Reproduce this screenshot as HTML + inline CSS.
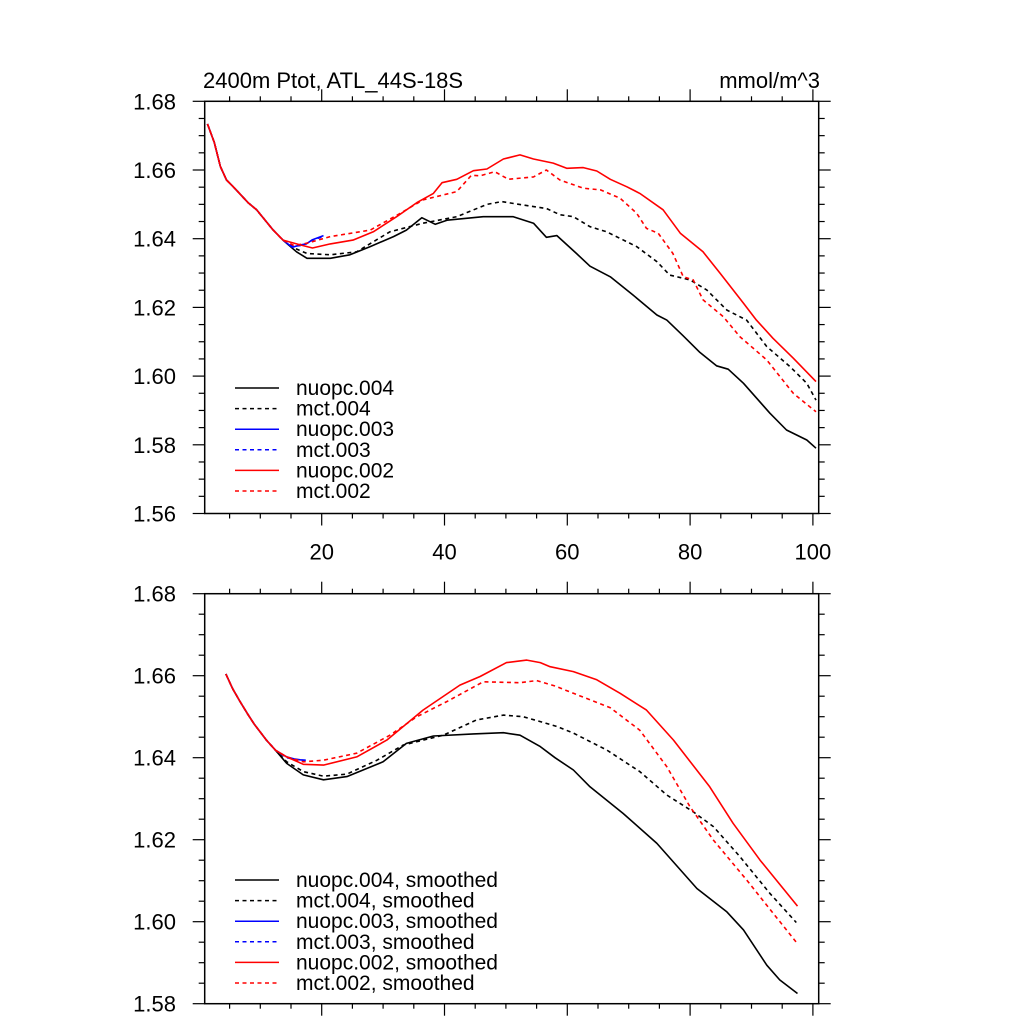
<!DOCTYPE html>
<html><head><meta charset="utf-8"><style>
html,body{margin:0;padding:0;background:#fff;}
svg{display:block;}
text{font-family:"Liberation Sans",sans-serif;fill:#000;}
</style></head><body>
<svg id="chart" width="1024" height="1024" viewBox="0 0 1024 1024"></svg>
<script>
// ---- shared x categories / ticks ----
const xTickLabels = [20, 40, 60, 80, 100];
const topYTicks = [1.56, 1.58, 1.60, 1.62, 1.64, 1.66, 1.68];
const botYTicks = [1.58, 1.60, 1.62, 1.64, 1.66, 1.68];
const early = [[1.4,1.6734],[2.5,1.668],[3.5,1.661],[4.5,1.6571],[5.6,1.6551],[8,1.6505],[9.4,1.6484],[12.1,1.6425],[13.7,1.6396]];
// ---- top panel series ----
const topN004X = [15.9,17.6,21.4,24.6,27.9,31.7,33.8,36.3,38.5,40.4,46.3,51.2,54.5,56.6,58.3,61.5,63.7,67,70.7,74.6,76.2,78.9,81.6,84.3,86.2,88.7,93,95.7,99,100.5];
const topN004Y = [1.6362,1.6343,1.6343,1.6353,1.6377,1.6406,1.6425,1.6461,1.6442,1.6454,1.6464,1.6464,1.6445,1.6404,1.6409,1.6357,1.6320,1.6289,1.6236,1.6178,1.6163,1.6117,1.6069,1.6030,1.6020,1.5979,1.5892,1.5843,1.5814,1.5790];
const topM004X = [15.9,17.6,21.4,25.7,31.1,36.5,42,46.9,49.3,52.8,56.6,58.8,61,63.7,66.4,71.3,74.6,76.7,80,82.7,86,89.2,92.5,96.3,99,100.5];
const topM004Y = [1.6370,1.6357,1.6353,1.6362,1.6420,1.6445,1.6464,1.6500,1.6508,1.6498,1.6488,1.6470,1.6464,1.6435,1.6420,1.6377,1.6333,1.6294,1.6280,1.6251,1.6192,1.6163,1.6086,1.6027,1.5979,1.5930];
const topN003X = [15.2,16.5,17.5,18.5,20.3];
const topN003Y = [1.6375,1.6382,1.6385,1.6397,1.6409];
const topM003X = [15.2,16.5,17.5,18.5,20.0];
const topM003Y = [1.6378,1.6380,1.6386,1.6396,1.6405];
const topN002X = [16.5,18.5,21.4,25.1,28.4,32.2,35.5,38.2,39.6,42,44.7,46.9,49.6,52.3,54.5,57.7,59.9,62.6,64.8,67,69.7,71.8,75.6,78.4,82.1,84.9,88.7,90.8,93.5,96.8,100.5];
const topN002Y = [1.6382,1.6373,1.6385,1.6396,1.6420,1.6464,1.6505,1.6532,1.6563,1.6573,1.6598,1.6603,1.6632,1.6644,1.6632,1.6620,1.6605,1.6607,1.6597,1.6573,1.6551,1.6532,1.6484,1.6416,1.6362,1.6299,1.6212,1.6163,1.6110,1.6052,1.5984];
const topM002X = [15.5,17.6,21.4,27.9,32.8,36.5,42,44.4,45.8,48.2,50.4,54.5,56.6,58.8,62.6,65.4,68.6,71.3,72.9,74.8,77.2,78.9,80.5,82.1,85.4,88.1,92.5,96.8,100.5];
const topM002Y = [1.6380,1.6387,1.6406,1.6425,1.6474,1.6513,1.6537,1.6585,1.6583,1.6595,1.6573,1.6580,1.6600,1.6571,1.6547,1.6542,1.6518,1.6474,1.6430,1.6416,1.6357,1.6289,1.6280,1.6222,1.6173,1.6115,1.6047,1.5950,1.5896];
// ---- bottom panel series (smoothed) ----
const bEarlyX = [4.4,5.5,6.7,8,9,11,12.5];
const bEarlyY = [1.6604,1.6568,1.6537,1.6505,1.6482,1.6443,1.6418];
const botN004X = [14.3,17,20.3,24.1,30,33.8,38.2,44.7,49.6,52.3,55.6,58,61,63.7,69.1,74.6,81.1,86,88.7,92.5,94.6,97.5];
const botN004Y = [1.6386,1.6358,1.6346,1.6354,1.6390,1.6435,1.6453,1.6458,1.6461,1.6455,1.6427,1.6400,1.6370,1.6329,1.6264,1.6191,1.6081,1.6024,1.5980,1.5894,1.5858,1.5825];
const botM004X = [14.3,17,20.3,24.1,29,33.3,39.8,45.2,49.6,52.8,55.6,58.3,61,64.8,66.4,71.8,76.2,80.5,83.8,88.1,93,97.3];
const botM004Y = [1.6390,1.6366,1.6355,1.6360,1.6394,1.6431,1.6455,1.6492,1.6504,1.6500,1.6488,1.6476,1.6460,1.6431,1.6419,1.6366,1.6309,1.6268,1.6232,1.6159,1.6069,1.5998];
const botN003X = [14.3,15.5,16.5,17.4];
const botN003Y = [1.6402,1.6397,1.6395,1.6394];
const botM003X = [14.3,15.5,16.5,17.4];
const botM003Y = [1.6400,1.6396,1.6394,1.6393];
const botN002X = [14.3,17,20.3,25.7,30.6,36.5,42.5,45.8,50.1,53.4,55.6,57.2,61,64.8,68.6,72.9,77.3,83.2,87,91.4,97.5];
const botN002Y = [1.6402,1.6384,1.6382,1.6402,1.6443,1.6516,1.6577,1.6598,1.6632,1.6638,1.6632,1.6622,1.6610,1.6590,1.6557,1.6516,1.6443,1.6329,1.6240,1.6150,1.6038];
const botM002X = [14.3,17,20.3,25.7,31.1,35.5,40.4,46.3,52.3,55,58,61,67,71.8,76.2,80,83.8,89.2,97.5];
const botM002Y = [1.6402,1.6390,1.6394,1.6411,1.6455,1.6500,1.6537,1.6585,1.6583,1.6588,1.6575,1.6557,1.6522,1.6467,1.6378,1.6280,1.6199,1.6102,1.5946];
const topLegend = ["nuopc.004","mct.004","nuopc.003","mct.003","nuopc.002","mct.002"];
const botLegend = ["nuopc.004, smoothed","mct.004, smoothed","nuopc.003, smoothed","mct.003, smoothed","nuopc.002, smoothed","mct.002, smoothed"];

const NS = "http://www.w3.org/2000/svg";
const svg = document.getElementById('chart');
function mk(tag, attrs, parent) {
  const e = document.createElementNS(NS, tag);
  for (const k in attrs) e.setAttribute(k, attrs[k]);
  (parent || svg).appendChild(e);
  return e;
}
function xScale(v) { return 198.9 + v * 6.14; }
const LEFT = 204.7, RIGHT = 818.7;
const styles = [
  {c:'#000', d:null}, {c:'#000', d:'4,3.5'},
  {c:'#0000ff', d:null}, {c:'#0000ff', d:'4,3.5'},
  {c:'#ff0000', d:null}, {c:'#ff0000', d:'4,3.5'}
];

function panel(name, top, bottom, ymin, ymax, yticks, showXLabels, series, legend, legY) {
  const g = mk('g', {});
  
  
  const yScale = v => bottom - (v - ymin) / (ymax - ymin) * (bottom - top);
  const tg = mk('g', {stroke:'#000','stroke-width':1.2}, g);
  
  
  for (let v = 5; v <= 100; v += 5) {
    const x = xScale(v); const len = (v % 20 === 0) ? 12 : 5;
    mk('line', {x1:x, x2:x, y1:top, y2:top - len}, tg);
    mk('line', {x1:x, x2:x, y1:bottom, y2:bottom + len}, tg);
  }
  const step = (yticks[1] - yticks[0]) / 4;
  for (let i = 0; i <= Math.round((ymax - ymin) / step); i++) {
    const v = ymin + i * step; const y = yScale(v); const len = (i % 4 === 0) ? 12 : 6;
    mk('line', {x1:LEFT, x2:LEFT - len, y1:y, y2:y}, tg);
    mk('line', {x1:RIGHT, x2:RIGHT + len, y1:y, y2:y}, tg);
  }
  const fr = mk('rect', {x:LEFT, y:top, width:RIGHT - LEFT, height:bottom - top, fill:'none', stroke:'#000', 'stroke-width':1.5}, g);
  
  
  yticks.forEach(v => {
    const t = mk('text', {x:176, y:yScale(v) + 8, 'text-anchor':'end', 'font-size':22}, g);
    
    
    t.textContent = v.toFixed(2);
  });
  if (showXLabels) xTickLabels.forEach(v => {
    const t = mk('text', {x:xScale(v), y:bottom + 46, 'text-anchor':'middle', 'font-size':22}, g);
    
    
    t.textContent = v;
  });
  series.forEach((s, i) => {
    const pts = s.x.map((xv, j) => xScale(xv).toFixed(1) + ',' + yScale(s.y[j]).toFixed(1)).join(' ');
    const a = {points:pts, fill:'none', stroke:styles[i].c, 'stroke-width':1.6, 'stroke-linejoin':'round'};
    if (styles[i].d) a['stroke-dasharray'] = styles[i].d;
    const pl = mk('polyline', a, g);
    
    
  });
  legend.forEach((lab, i) => {
    const y = legY + i * 20.6;
    const lg = mk('g', {}, g);
    
    
    const a = {x1:235, x2:279, y1:y, y2:y, stroke:styles[i].c, 'stroke-width':1.5};
    if (styles[i].d) a['stroke-dasharray'] = '4,3.5';
    mk('line', a, lg);
    const t = mk('text', {x:296, y:y + 7, 'font-size':21}, lg);
    t.textContent = lab;
  });
}
function cat(a, b) { return a.concat(b); }
const ex = early.map(p => p[0]), ey = early.map(p => p[1]);
panel('top-panel', 101.3, 513.5, 1.56, 1.68, topYTicks, true, [
  {x:cat(ex, topN004X), y:cat(ey, topN004Y)},
  {x:cat(ex, topM004X), y:cat(ey, topM004Y)},
  {x:cat(ex, topN003X), y:cat(ey, topN003Y)},
  {x:cat(ex, topM003X), y:cat(ey, topM003Y)},
  {x:cat(ex, topN002X), y:cat(ey, topN002Y)},
  {x:cat(ex, topM002X), y:cat(ey, topM002Y)}
], topLegend, 388);
panel('bottom-panel', 593.7, 1003.7, 1.58, 1.68, botYTicks, false, [
  {x:cat(bEarlyX, botN004X), y:cat(bEarlyY, botN004Y)},
  {x:cat(bEarlyX, botM004X), y:cat(bEarlyY, botM004Y)},
  {x:cat(bEarlyX, botN003X), y:cat(bEarlyY, botN003Y)},
  {x:cat(bEarlyX, botM003X), y:cat(bEarlyY, botM003Y)},
  {x:cat(bEarlyX, botN002X), y:cat(bEarlyY, botN002Y)},
  {x:cat(bEarlyX, botM002X), y:cat(bEarlyY, botM002Y)}
], botLegend, 880);
const t1 = mk('text', {x:203, y:88, 'font-size':22});


t1.textContent = '2400m Ptot, ATL_44S-18S';
const t2 = mk('text', {x:820, y:88, 'font-size':22, 'text-anchor':'end'});


t2.textContent = 'mmol/m^3';
</script>
</body></html>
